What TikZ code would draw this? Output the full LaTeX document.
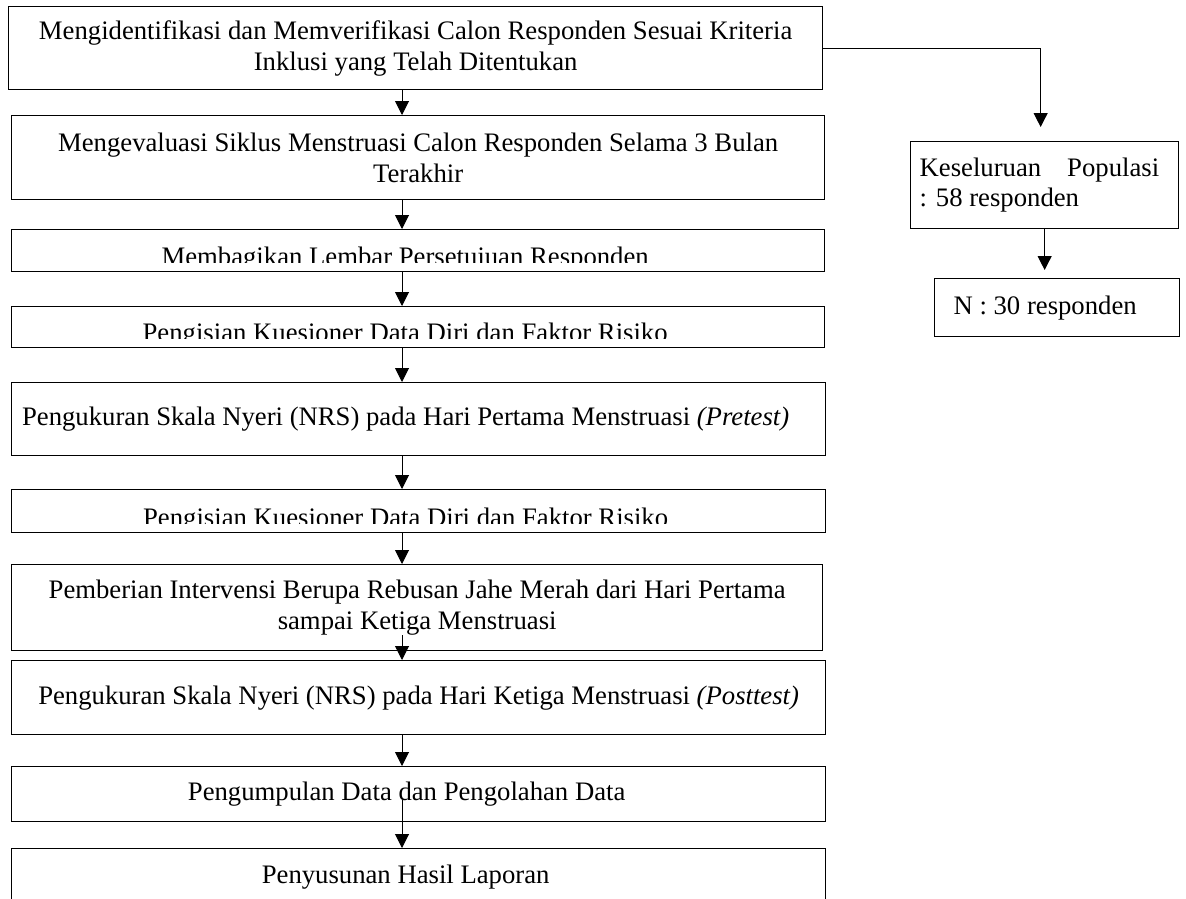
\documentclass[tikz,border=0pt]{standalone}
\usepackage{fontspec}
\setmainfont{Liberation Serif}
\usetikzlibrary{arrows.meta, calc}

\newcommand{\boxfont}{\fontsize{26.7}{30.7}\selectfont}
% text cut off above the lower border, as in the scanned boxes
\newcommand{\cuttext}[1]{%
    \clip (path picture bounding box.north west) rectangle ([yshift=9pt]path picture bounding box.south east);
    \node[anchor=base, font=\boxfont] at ([xshift=-13pt, yshift=6pt]path picture bounding box.south) {#1};}

\begin{document}
\begin{tikzpicture}[x=1pt, y=-1pt, >={Triangle[length=14pt, width=14pt]},
    stepbox/.style={draw, line width=1.3pt, anchor=north west, inner sep=0pt, align=center, font=\boxfont},
    flow/.style={->, line width=1pt}]
    \useasboundingbox (0,0) rectangle (1186,899);
    \coordinate (axis) at (402,0);

    % left column
    \node[stepbox, minimum width=814pt, minimum height=83pt] (identifikasi) at (8,6)
        {Mengidentifikasi dan Memverifikasi Calon Responden Sesuai Kriteria\\Inklusi yang Telah Ditentukan};
    \node[stepbox, minimum width=813pt, minimum height=84pt] (evaluasi) at (11,115)
        {Mengevaluasi Siklus Menstruasi Calon Responden Selama 3 Bulan\\Terakhir};
    \node[stepbox, minimum width=813pt, minimum height=42pt,
        path picture={\cuttext{Membagikan Lembar Persetujuan Responden}}] (persetujuan) at (11,229) {};
    \node[stepbox, minimum width=813pt, minimum height=41pt,
        path picture={\cuttext{Pengisian Kuesioner Data Diri dan Faktor Risiko}}] (kuesioner) at (11,306) {};
    \node[stepbox, minimum width=814pt, minimum height=73pt] (pretest) at (11,382)
        {Pengukuran Skala Nyeri (NRS) pada Hari Pertama Menstruasi \textit{(Pretest)}\hspace{26pt}};
    \node[stepbox, minimum width=814pt, minimum height=43pt,
        path picture={\cuttext{Pengisian Kuesioner Data Diri dan Faktor Risiko}}] (kuesionerdua) at (11,489) {};
    \node[stepbox, minimum width=811pt, minimum height=86pt] (intervensi) at (11,564)
        {Pemberian Intervensi Berupa Rebusan Jahe Merah dari Hari Pertama\\sampai Ketiga Menstruasi};
    \node[stepbox, minimum width=814pt, minimum height=74pt] (posttest) at (11,660)
        {Pengukuran Skala Nyeri (NRS) pada Hari Ketiga Menstruasi \textit{(Posttest)}};
    \node[stepbox, minimum width=814pt, minimum height=55pt] (pengumpulan) at (11,766)
        {Pengumpulan Data dan Pengolahan Data\hspace{24pt}};
    \node[stepbox, minimum width=814pt, minimum height=56pt] (laporan) at (11,848)
        {Penyusunan Hasil Laporan\hspace{26pt}};

    % right column
    \node[stepbox, minimum width=268pt, minimum height=87pt, text width=250pt, align=flush left] (populasi) at (910,141)
        {Keseluruan\hspace{26pt}Populasi\\: 58 responden};
    \node[stepbox, minimum width=245pt, minimum height=58pt] (sampel) at (934,278)
        {N : 30 responden\hspace{24pt}};

    % arrows
    \draw[flow] (identifikasi.south -| axis) -- (evaluasi.north -| axis);
    \draw[flow] (evaluasi.south -| axis) -- (persetujuan.north -| axis);
    \draw[flow] (persetujuan.south -| axis) -- (kuesioner.north -| axis);
    \draw[flow] (kuesioner.south -| axis) -- (pretest.north -| axis);
    \draw[flow] (pretest.south -| axis) -- (kuesionerdua.north -| axis);
    \draw[flow] (kuesionerdua.south -| axis) -- (intervensi.north -| axis);
    \draw[flow] ([yshift=16pt]intervensi.south -| axis) -- (posttest.north -| axis);
    \draw[flow] (posttest.south -| axis) -- (pengumpulan.north -| axis);
    \draw[flow] ([yshift=22pt]pengumpulan.south -| axis) -- (laporan.north -| axis);

    \draw[flow] (identifikasi.east) -| ([xshift=-4pt, yshift=14pt]populasi.north);
    \draw[flow] (populasi.south) -- ([yshift=8pt]populasi.south |- sampel.north);
\end{tikzpicture}
\end{document}
